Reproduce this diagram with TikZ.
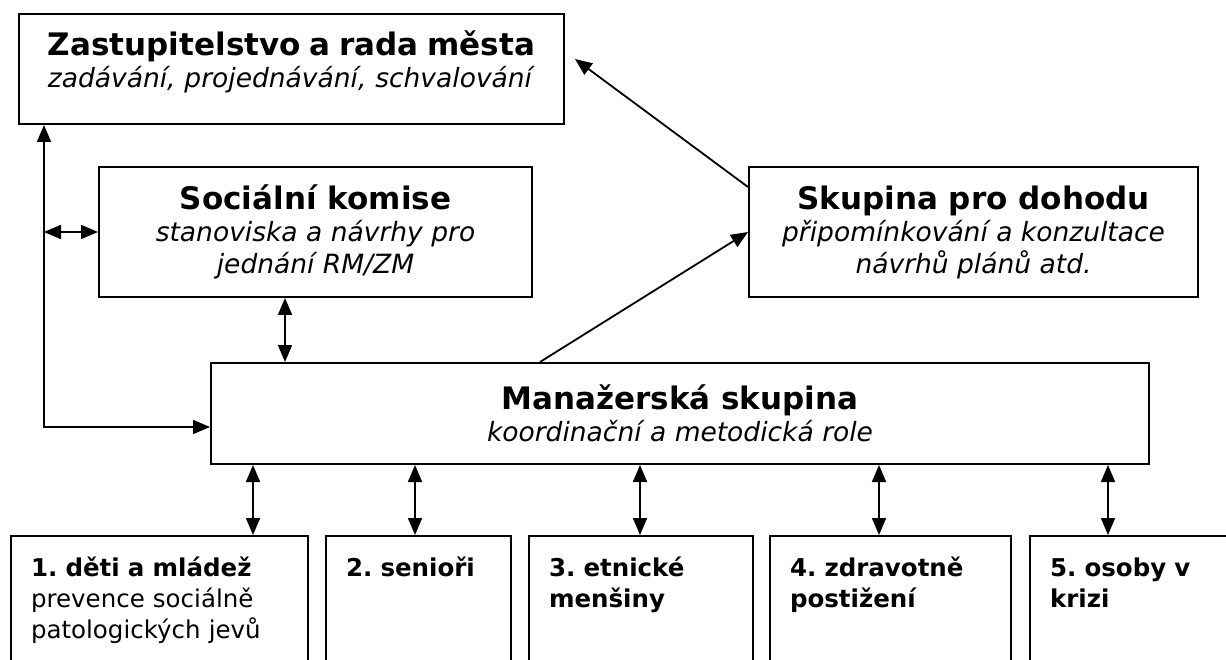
\documentclass[tikz,border=0pt]{standalone}
\usepackage{fontspec}
\setmainfont{DejaVu Sans}
\usetikzlibrary{arrows.meta,positioning}

\newcommand{\boxtitle}[1]{{\fontsize{31}{37}\selectfont\bfseries #1}}
\frenchspacing

\begin{document}
\begin{tikzpicture}[
      > = {Triangle[length=17pt,width=14pt]},
      x = 1pt, y = -1pt
    ]
    \tikzstyle{my box} = [draw, line width=2pt, align=center, anchor=north west,
      font=\fontsize{26.5}{32}\selectfont]
    \tikzstyle{group box} = [my box, align=left, inner xsep=20pt, inner ysep=0pt,
      text height=40pt, text depth=110pt, font=\fontsize{24.5}{31}\selectfont]
    \tikzstyle{my line} = [<->, line width=1.8pt]
    \useasboundingbox (0,0) rectangle (1226,660);

    \node[my box, inner sep=0pt, text width=545pt, text height=42pt, text depth=68pt]
      (T) at (18,13)
      {\boxtitle{Zastupitelstvo a rada města}\\ \textit{zadávání, projednávání, schvalování}};
    \node[my box, minimum width=433pt, minimum height=130pt] (S) at (98,166)
      {\boxtitle{Sociální komise}\\ \textit{stanoviska a návrhy pro}\\ \textit{jednání RM/ZM}};
    \node[my box, minimum width=449pt, minimum height=130pt] (K) at (748,166)
      {\boxtitle{Skupina pro dohodu}\\ \textit{připomínkování a konzultace}\\ \textit{návrhů plánů atd.}};
    \node[my box, minimum width=938pt, minimum height=101pt] (M) at (210,362)
      {\boxtitle{Manažerská skupina}\\ \textit{koordinační a metodická role}};

    % target groups
    \node[group box, text width=257pt] (g1) at (10,535)
      {\textbf{1. děti a mládež}\\prevence sociálně\\patologických jevů};
    \node[group box, text width=145pt, right=16pt of g1.north east, anchor=north west] (g2)
      {\textbf{2. senioři}};
    \node[group box, text width=184pt, right=16pt of g2.north east, anchor=north west] (g3)
      {\textbf{3. etnické}\\ \textbf{menšiny}};
    \node[group box, text width=201pt, right=15pt of g3.north east, anchor=north west] (g4)
      {\textbf{4. zdravotně}\\ \textbf{postižení}};
    \node[group box, text width=179pt, right=17pt of g4.north east, anchor=north west] (g5)
      {\textbf{5. osoby v}\\ \textbf{krizi}};

    \coordinate (bend) at (44,427);
    \draw[my line] (T.south -| bend) -- (bend) -- (bend -| M.west);
    \draw[my line] (bend |- S.west) -- (S.west);
    \coordinate (sk) at ([xshift=187pt]S.south west);
    \draw[my line] (sk) -- (sk |- M.north);
    \draw[->, line width=1.8pt] ([xshift=330pt]M.north west) -- (K.west);
    \draw[->, line width=1.8pt] ([yshift=-21pt]K.north west) -- ([shift={(10pt,10pt)}]T.east);
    \foreach \g/\dx in {g1/243, g2/90, g3/112, g4/110, g5/79} {
      \coordinate (\g top) at ([xshift=\dx pt]\g.north west);
      \draw[my line] (\g top) -- (\g top |- M.south);
    }
\end{tikzpicture}
\end{document}
